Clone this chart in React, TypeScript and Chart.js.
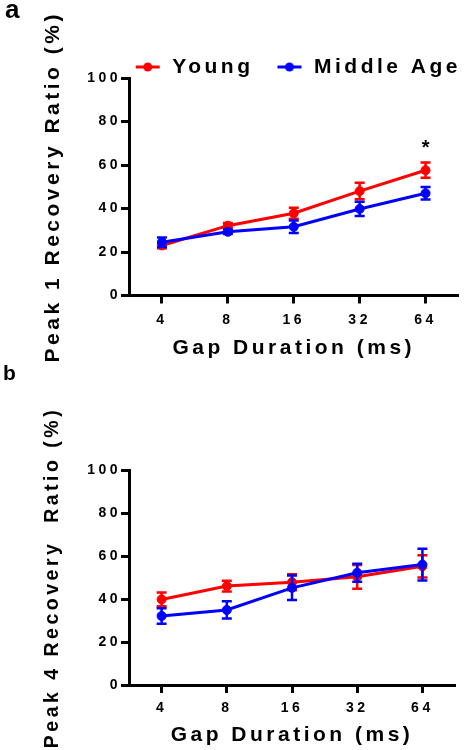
import React, { useEffect, useRef } from "react";
import { Chart, registerables } from "chart.js";

Chart.register(...registerables);

// ---------- data ----------
const categories = ["4", "8", "16", "32", "64"];
const yTickValues = [0, 20, 40, 60, 80, 100];
const seriesNames = ["Young", "Middle Age"];

// Panel a: Peak 1 recovery ratio (%)
const youngA = [23.0, 32.1, 37.8, 48.0, 57.6];
const youngAErr = [1.3, 1.2, 2.5, 3.8, 3.5];
const middleA = [24.5, 29.3, 31.6, 39.8, 47.0];
const middleAErr = [2.2, 1.0, 2.9, 3.3, 2.9];

// Panel b: Peak 4 recovery ratio (%)
const youngB = [39.8, 46.0, 47.8, 50.3, 55.2];
const youngBErr = [3.2, 2.5, 3.7, 5.5, 5.2];
const middleB = [32.1, 34.9, 45.2, 52.2, 56.0];
const middleBErr = [3.6, 4.0, 5.7, 4.2, 7.4];

// significance mark in panel a
const sigMarksA = [{ category: "64", value: 67.5, text: "*" }];

// ---------- styles ----------
const FONT = "'Liberation Sans', Arial, Helvetica, sans-serif";
const RED = "#ff0000";
const BLUE = "#0000ff";
const LETTER_SPACING = "3.5px";

const spacingPlugin = {
  id: "letterSpacing",
  beforeLayout(chart: any) {
    (chart.ctx as any).letterSpacing = LETTER_SPACING;
  },
  beforeDraw(chart: any) {
    (chart.ctx as any).letterSpacing = LETTER_SPACING;
  },
};

const errorBarPlugin = {
  id: "errorBars",
  beforeDatasetDraw(chart: any, args: any) {
    const ds = chart.data.datasets[args.index];
    const errs: number[] | undefined = ds.errors;
    if (!errs) return;
    const xs = chart.scales.x;
    const ys = chart.scales.y;
    const ctx = chart.ctx;
    ctx.save();
    ctx.strokeStyle = ds.borderColor;
    ctx.lineWidth = 2.5;
    ds.data.forEach((v: number, i: number) => {
      const x = xs.getPixelForValue(i);
      const yTop = ys.getPixelForValue(v + errs[i]);
      const yBot = ys.getPixelForValue(v - errs[i]);
      ctx.beginPath();
      ctx.moveTo(x, yTop);
      ctx.lineTo(x, yBot);
      ctx.moveTo(x - 5, yTop);
      ctx.lineTo(x + 5, yTop);
      ctx.moveTo(x - 5, yBot);
      ctx.lineTo(x + 5, yBot);
      ctx.stroke();
    });
    ctx.restore();
  },
};

function makeSigPlugin(marks: { category: string; value: number; text: string }[]) {
  return {
    id: "sigMarks",
    afterDatasetsDraw(chart: any) {
      const xs = chart.scales.x;
      const ys = chart.scales.y;
      const ctx = chart.ctx;
      ctx.save();
      ctx.fillStyle = "#000";
      ctx.font = `bold 20px ${FONT}`;
      ctx.textAlign = "center";
      ctx.textBaseline = "middle";
      (ctx as any).letterSpacing = "0px";
      marks.forEach((m) => {
        const x = xs.getPixelForValue(categories.indexOf(m.category));
        const y = ys.getPixelForValue(m.value);
        ctx.fillText(m.text, x, y);
      });
      ctx.restore();
    },
  };
}

// legend marker: transparent lead-in gap, then line with a dot
const MARKER_W = 50;
function markerImage(color: string) {
  const c = document.createElement("canvas");
  c.width = MARKER_W;
  c.height = 12;
  const g = c.getContext("2d")!;
  g.strokeStyle = color;
  g.fillStyle = color;
  g.lineWidth = 3;
  g.beginPath();
  g.moveTo(24, 6);
  g.lineTo(48, 6);
  g.stroke();
  g.beginPath();
  g.arc(36, 6, 4.5, 0, Math.PI * 2);
  g.fill();
  return c;
}

type PanelCfg = {
  young: number[];
  youngErr: number[];
  middle: number[];
  middleErr: number[];
  yTitle: string;
  yTitleSize: number;
  showLegend: boolean;
  padding: { top: number; right: number; bottom: number; left: number };
  xHeight: number;
  xTickPad: number;
  xTitlePadBottom: number;
  sig: { category: string; value: number; text: string }[];
};

function buildChart(canvas: HTMLCanvasElement, cfg: PanelCfg) {
  const tickFont = { family: FONT, size: 14, weight: "bold" as const };
  const titleFont = { family: FONT, size: 21, weight: "bold" as const };
  const datasets: any[] = [
    {
      label: seriesNames[0],
      data: cfg.young,
      errors: cfg.youngErr,
      borderColor: RED,
      backgroundColor: RED,
      pointBackgroundColor: RED,
      pointBorderColor: RED,
      borderWidth: 3,
      pointRadius: 4.5,
      pointBorderWidth: 1,
      tension: 0,
      order: 1,
    },
    {
      label: seriesNames[1],
      data: cfg.middle,
      errors: cfg.middleErr,
      borderColor: BLUE,
      backgroundColor: BLUE,
      pointBackgroundColor: BLUE,
      pointBorderColor: BLUE,
      borderWidth: 3,
      pointRadius: 4.5,
      pointBorderWidth: 1,
      tension: 0,
      order: 0,
    },
  ];
  return new Chart(canvas, {
    type: "line",
    data: { labels: categories, datasets },
    plugins: [spacingPlugin, errorBarPlugin, makeSigPlugin(cfg.sig)],
    options: {
      responsive: false,
      animation: false,
      layout: { padding: cfg.padding },
      plugins: {
        tooltip: { enabled: false },
        legend: {
          display: cfg.showLegend,
          position: "top",
          fullSize: true,
          align: "end",
          maxHeight: 21.5,
          labels: {
            usePointStyle: true,
            pointStyleWidth: MARKER_W,
            padding: 0,
            color: "#000",
            font: { family: FONT, size: 21, weight: "bold" },
            generateLabels: (chart: any) =>
              chart.data.datasets.map((ds: any, i: number) => ({
                text: ds.label,
                fillStyle: ds.borderColor,
                strokeStyle: ds.borderColor,
                lineWidth: 0,
                pointStyle: markerImage(ds.borderColor),
                hidden: false,
                datasetIndex: i,
                fontColor: "#000",
              })),
          },
        },
      },
      scales: {
        x: {
          type: "category",
          offset: true,
          grid: {
            display: true,
            drawOnChartArea: false,
            drawTicks: true,
            tickLength: 8,
            tickWidth: 3,
            tickColor: "#000",
            offset: false,
          },
          border: { display: true, color: "#000", width: 3 },
          ticks: {
            color: "#000",
            font: tickFont,
            padding: cfg.xTickPad,
            maxRotation: 0,
            autoSkip: false,
          },
          title: {
            display: true,
            text: "Gap Duration (ms)",
            color: "#000",
            font: titleFont,
            padding: { top: 0, bottom: cfg.xTitlePadBottom },
          },
          afterFit: (s: any) => {
            s.height = cfg.xHeight;
          },
        },
        y: {
          min: 0,
          max: 100,
          grid: {
            display: true,
            drawOnChartArea: false,
            drawTicks: true,
            tickLength: 8,
            tickWidth: 3,
            tickColor: "#000",
          },
          border: { display: true, color: "#000", width: 3 },
          ticks: { color: "#000", font: tickFont, padding: 0 },
          afterBuildTicks: (s: any) => {
            s.ticks = yTickValues.map((v) => ({ value: v }));
          },
          title: {
            display: true,
            text: cfg.yTitle,
            color: "#000",
            font: { family: FONT, size: cfg.yTitleSize, weight: "bold" },
            padding: { top: 53 - cfg.yTitleSize * 0.6, bottom: 0 },
          },
          afterFit: (s: any) => {
            s.width = 129;
          },
        },
      },
    } as any,
  });
}

export default function App() {
  const refA = useRef<HTMLCanvasElement | null>(null);
  const refB = useRef<HTMLCanvasElement | null>(null);

  useEffect(() => {
    const a = buildChart(refA.current!, {
      young: youngA,
      youngErr: youngAErr,
      middle: middleA,
      middleErr: middleAErr,
      yTitle: "Peak 1 Recovery Ratio (%)",
      yTitleSize: 21,
      showLegend: true,
      padding: { top: 56.5, right: 3, bottom: 0, left: 0 },
      xHeight: 79.5,
      xTickPad: 8,
      xTitlePadBottom: 14.4,
      sig: sigMarksA,
    });
    const b = buildChart(refB.current!, {
      young: youngB,
      youngErr: youngBErr,
      middle: middleB,
      middleErr: middleBErr,
      yTitle: "Peak 4 Recovery  Ratio (%)",
      yTitleSize: 19.5,
      showLegend: false,
      padding: { top: 95, right: 9, bottom: 0, left: 0 },
      xHeight: 65,
      xTickPad: 7,
      xTitlePadBottom: 2.4,
      sig: [],
    });
    return () => {
      a.destroy();
      b.destroy();
    };
  }, []);

  const labelStyle: React.CSSProperties = {
    position: "absolute",
    fontFamily: FONT,
    fontWeight: "bold",
    lineHeight: 1,
    color: "#000",
  };

  return (
    <div
      style={{
        position: "absolute",
        left: 0,
        top: 0,
        width: 464,
        height: 750,
        background: "#fff",
        overflow: "hidden",
      }}
    >
      <canvas
        ref={refA}
        width={464}
        height={375}
        style={{ position: "absolute", left: 0, top: 0, display: "block" }}
      />
      <canvas
        ref={refB}
        width={464}
        height={375}
        style={{ position: "absolute", left: 0, top: 375, display: "block" }}
      />
      <div style={{ ...labelStyle, left: 5, top: -4, fontSize: 26 }}>a</div>
      <div style={{ ...labelStyle, left: 3, top: 362, fontSize: 21 }}>b</div>
    </div>
  );
}
